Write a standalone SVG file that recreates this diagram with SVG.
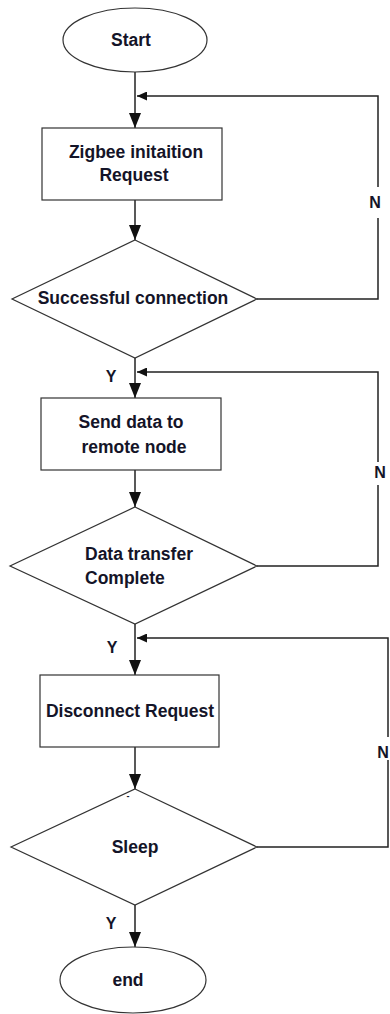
<svg xmlns="http://www.w3.org/2000/svg" width="390" height="1014" viewBox="0 0 390 1014">
<style>
.shape{fill:#fff;stroke:#333;stroke-width:1.2}
.ln{fill:none;stroke:#222;stroke-width:1.5}
text{font-family:"Liberation Sans",Arial,sans-serif;font-weight:bold;font-size:17.5px;fill:#141428;text-anchor:middle}
.lbl{font-size:16px}
.st{text-anchor:start}
</style>
<defs>
<marker id="arr" viewBox="0 0 15 12" refX="15" refY="6" markerWidth="15" markerHeight="12" markerUnits="userSpaceOnUse" orient="auto"><path d="M0,0 L15,6 L0,12 z" fill="#111"/></marker>
<marker id="arrs" viewBox="0 0 10 9" refX="10" refY="4.5" markerWidth="10" markerHeight="9" markerUnits="userSpaceOnUse" orient="auto"><path d="M0,0 L10,4.5 L0,9 z" fill="#111"/></marker>
</defs>
<rect width="390" height="1014" fill="#fff"/>
<g id="connectors">
<path class="ln" d="M135,72 V128" marker-end="url(#arr)"/>
<path class="ln" d="M257,299 H378 V218"/>
<path class="ln" d="M378,187 V96 H137" marker-end="url(#arrs)"/>
<path class="ln" d="M135,200 V240" marker-end="url(#arr)"/>
<path class="ln" d="M135,358 V398" marker-end="url(#arr)"/>
<path class="ln" d="M257,566 H378 V485"/>
<path class="ln" d="M378,462 V372 H137" marker-end="url(#arrs)"/>
<path class="ln" d="M135,470 V507" marker-end="url(#arr)"/>
<path class="ln" d="M135,624 V675" marker-end="url(#arr)"/>
<path class="ln" d="M257,847 H388 V760"/>
<path class="ln" d="M388,737 V638 H137" marker-end="url(#arrs)"/>
<path class="ln" d="M135,747 V789" marker-end="url(#arr)"/>
<path class="ln" d="M135,905 V947" marker-end="url(#arr)"/>
<text class="lbl" x="375" y="208">N</text>
<text class="lbl" x="111" y="382">Y</text>
<text class="lbl" x="380" y="478">N</text>
<text class="lbl" x="112" y="653">Y</text>
<text class="lbl" x="383" y="758">N</text>
<text class="lbl" x="111" y="929">Y</text>
</g>
<g id="start">
<ellipse class="shape" cx="135" cy="40" rx="72" ry="32"/>
<text x="131" y="46">Start</text>
</g>
<g id="zigbee">
<rect class="shape" x="42" y="128" width="180" height="72"/>
<text x="136" y="158">Zigbee initaition</text>
<text x="134" y="181">Request</text>
</g>
<g id="successful">
<polygon class="shape" points="135,240 257,299 135,358 12,299"/>
<text x="133" y="304">Successful connection</text>
</g>
<g id="send">
<rect class="shape" x="41" y="398" width="180" height="72"/>
<text x="131" y="428">Send data to</text>
<text x="134" y="453">remote node</text>
</g>
<g id="transfer">
<polygon class="shape" points="135,507 257,566 135,624 10,566"/>
<text class="st" x="85" y="560">Data transfer</text>
<text class="st" x="85" y="584">Complete</text>
</g>
<g id="disconnect">
<rect class="shape" x="40" y="675" width="179" height="72"/>
<text x="130" y="717">Disconnect Request</text>
</g>
<g id="sleep">
<polygon class="shape" points="135,789 257,847 135,905 11,847"/>
<text x="128" y="799" style="font-size:9px">-</text>
<text x="135" y="853">Sleep</text>
</g>
<g id="end">
<ellipse class="shape" cx="133" cy="980" rx="73" ry="33"/>
<text x="128" y="986">end</text>
</g>
</svg>
